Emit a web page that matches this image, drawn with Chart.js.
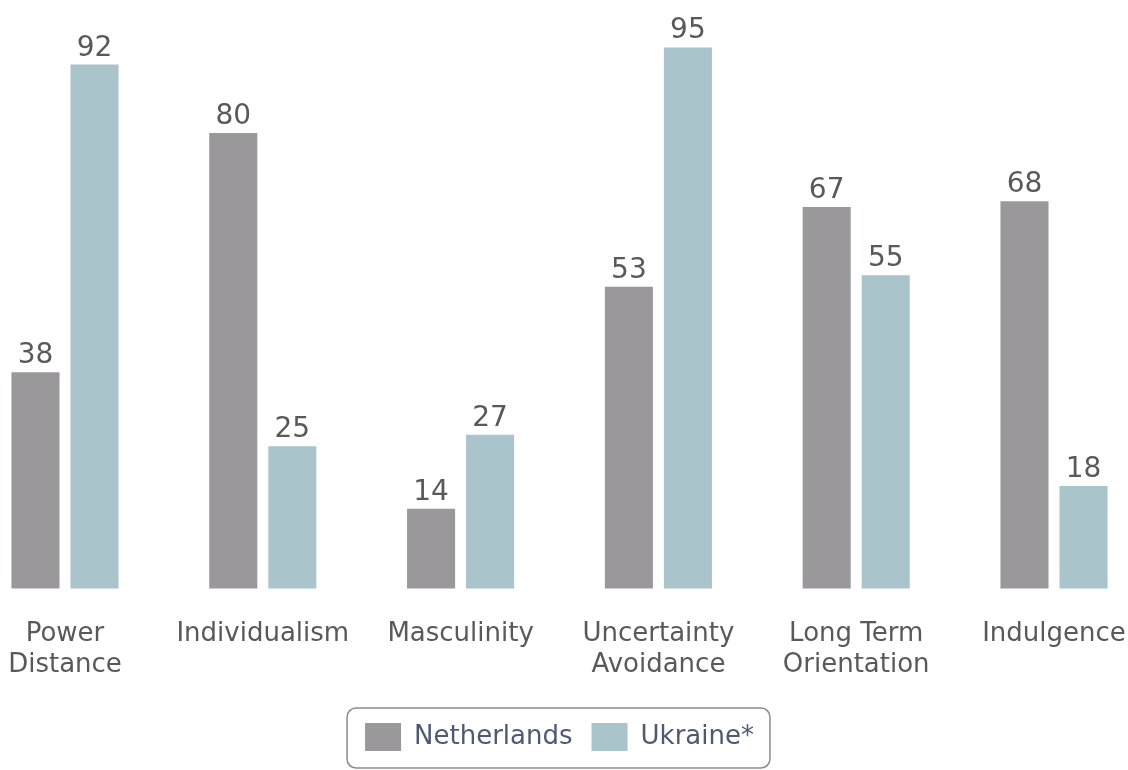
<!DOCTYPE html>
<html lang="en">

<head>
    <meta charset="UTF-8">
    <script src="https://cdn.jsdelivr.net/npm/chart.js"></script>
    <title>Hofstede comparison</title>
    <style>
        body { margin: 0; background: #fff; }
        #wrap { width: 1128px; height: 770px; }
    </style>
</head>

<body>
    <div id="wrap">
        <canvas id="chartHofstede" width="1128" height="770"></canvas>
    </div>

<script>

    // Dados do gráfico
    const dimensions = [
        ['Power', 'Distance'],
        'Individualism',
        'Masculinity',
        ['Uncertainty', 'Avoidance'],
        ['Long Term', 'Orientation'],
        'Indulgence'
    ]
    const netherlands = [38, 80, 14, 53, 67, 68]
    const ukraine = [92, 25, 27, 95, 55, 18]

    const fontFamily = '"DejaVu Sans", Verdana, sans-serif'

    // Valores em cima das barras
    const valueLabels = {
        id: 'valueLabels',
        afterDatasetsDraw(chart) {
            const ctx = chart.ctx
            ctx.save()
            ctx.font = '28px ' + fontFamily
            ctx.fillStyle = '#595959'
            ctx.textAlign = 'center'
            ctx.textBaseline = 'alphabetic'
            chart.data.datasets.forEach(function (ds, i) {
                chart.getDatasetMeta(i).data.forEach(function (bar, j) {
                    ctx.fillText(ds.data[j], bar.x, bar.y - 9)
                })
            })
            ctx.restore()
        }
    }

    // Moldura arredondada da legenda
    const legendFrame = {
        id: 'legendFrame',
        afterDraw(chart) {
            const boxes = chart.legend.legendHitBoxes
            if (!boxes || !boxes.length) return
            const first = boxes[0]
            const last = boxes[boxes.length - 1]
            const cy = first.top + first.height / 2
            const x = first.left - 18
            const w = last.left + last.width + 16 - x
            const y = cy - 29
            const h = 60
            const ctx = chart.ctx
            ctx.save()
            ctx.strokeStyle = '#8c8c8c'
            ctx.lineWidth = 1.5
            ctx.beginPath()
            ctx.roundRect(x, y, w, h, 9)
            ctx.stroke()
            ctx.restore()
        }
    }

    const config = {
        type: 'bar',
        data: {
            labels: dimensions,
            datasets: [{
                label: 'Netherlands',
                data: netherlands,
                backgroundColor: '#9b989b',
                categoryPercentage: 0.597,
                barPercentage: 0.814,
                clip: false
            }, {
                label: 'Ukraine*',
                data: ukraine,
                backgroundColor: '#a9c4ca',
                categoryPercentage: 0.597,
                barPercentage: 0.814,
                clip: false
            }]
        },
        options: {
            responsive: false,
            devicePixelRatio: 1,
            animation: false,
            layout: {
                padding: { left: 65, right: 74, top: 19, bottom: 9 }
            },
            scales: {
                x: {
                    offset: false,
                    grid: { display: false, drawTicks: false },
                    border: { display: false },
                    ticks: {
                        padding: 30,
                        color: '#595959',
                        maxRotation: 0,
                        autoSkip: false,
                        font: { family: fontFamily, size: 26, lineHeight: 1.2 }
                    },
                    afterFit(scale) {
                        // sem folga extra para os rótulos, área fixa pelo layout
                        scale.paddingLeft = 0
                        scale.paddingRight = 0
                        scale.height = scale.height - 7
                    }
                },
                y: {
                    display: false,
                    min: 0,
                    max: 100
                }
            },
            plugins: {
                tooltip: { enabled: false },
                legend: {
                    position: 'bottom',
                    labels: {
                        boxWidth: 36,
                        boxHeight: 28,
                        padding: 19,
                        color: '#4e5a72',
                        font: { family: fontFamily, size: 26 }
                    }
                }
            }
        },
        plugins: [valueLabels, legendFrame]
    }

    new Chart(document.getElementById('chartHofstede'), config)

</script>

</body>

</html>
